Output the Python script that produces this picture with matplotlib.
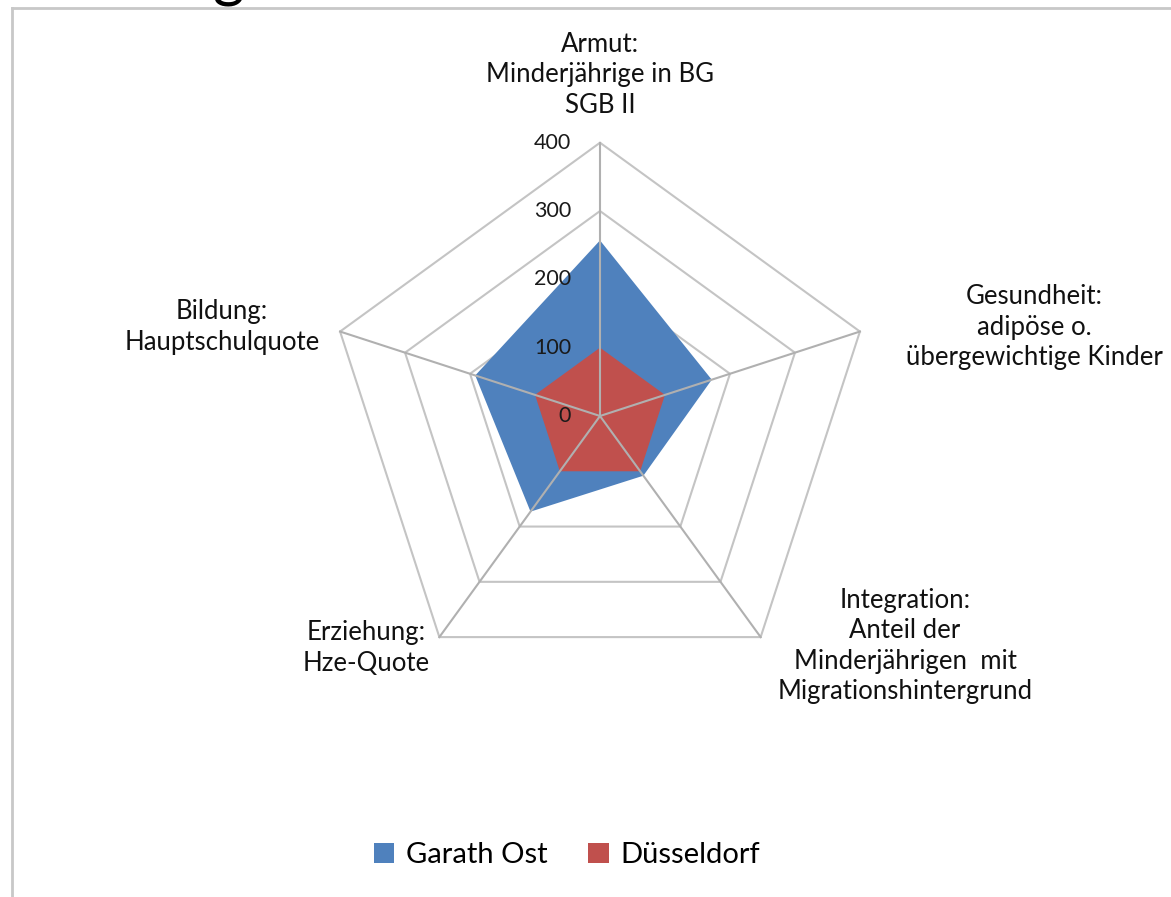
import numpy as np
import matplotlib.pyplot as plt
from matplotlib.lines import Line2D

plt.rcParams['font.family'] = ['Lato', 'DejaVu Sans']

# daten
categories = ["Armut:\nMinderjährige in BG\nSGB II",
              "Gesundheit:\nadipöse o.\nübergewichtige Kinder",
              "Integration:\nAnteil der\nMinderjährigen  mit\nMigrationshintergrund",
              "Erziehung:\nHze-Quote",
              "Bildung:\nHauptschulquote"]
garath_ost = [257, 172, 108, 173, 192]
duesseldorf = [100, 100, 100, 100, 100]
ticks = [0, 100, 200, 300, 400]
series_names = ["Garath Ost", "Düsseldorf"]

blue = "#4F81BD"
red = "#C0504D"
grid_col = "#C4C4C4"

W, H = 1171, 897
fig = plt.figure(figsize=(W / 100, H / 100), dpi=100)
ax = fig.add_axes([0, 0, 1, 1])

# mittelpunkt in pixel und massstab
cx, cy = 600, 416
s = 273.3 / 400
ax.set_xlim(-cx / s, (W - cx) / s)
ax.set_ylim(-(H - cy) / s, cy / s)
ax.axis("off")

n = len(categories)
ang = np.deg2rad(90 - 72 * np.arange(n))


def xy(vals):
    v = np.asarray(vals, dtype=float)
    return v * np.cos(ang), v * np.sin(ang)


# ringe
for t in ticks[1:]:
    x, y = xy([t] * n)
    ax.fill(x, y, fill=False, edgecolor=grid_col, lw=1.5, zorder=1)

# flaechen
x, y = xy(garath_ost)
ax.fill(x, y, color=blue, lw=0, zorder=2, label=series_names[0])
x, y = xy(duesseldorf)
ax.fill(x, y, color=red, lw=0, zorder=2.5, label=series_names[1])

# speichen
xm, ym = xy([ticks[-1]] * n)
for i in range(n):
    ax.plot([0, xm[i]], [0, ym[i]], color="#B0B0B0", lw=1.5, zorder=3)

# skalenbeschriftung
for t in ticks:
    ax.text(-29 / s, t, str(t), ha="right", va="center", fontsize=15.5,
            color="#1a1a1a", zorder=4)

# kategorien (position in pixel)
label_pos = [(600, 75), (1034, 327), (905, 646), (366, 648), (222, 327)]
for lab, (px, py) in zip(categories, label_pos):
    ax.text((px - cx) / s, (cy - py) / s, lab, ha="center", va="center",
            fontsize=18.5, color="#111111", linespacing=1.28)

leg = fig.legend(loc="center", bbox_to_anchor=(567 / W, 1 - 855 / H), ncol=2,
                 frameon=False, fontsize=21, handlelength=0.7, handleheight=0.7,
                 handletextpad=0.4, columnspacing=1.4)

# rahmen links und oben
fig.add_artist(Line2D([11.5 / W, 11.5 / W], [0, 1 - 8.5 / H], color="#C8C8C8", lw=2,
                      transform=fig.transFigure))
fig.add_artist(Line2D([11.5 / W, 1], [1 - 8.5 / H, 1 - 8.5 / H], color="#C8C8C8", lw=2,
                      transform=fig.transFigure))

# abgeschnittener titel oben
fig.text(228 / W, 1 + 4 / H, "g", ha="center", va="baseline", fontsize=44,
         color="black")

fig.savefig("out.png", dpi=100)
